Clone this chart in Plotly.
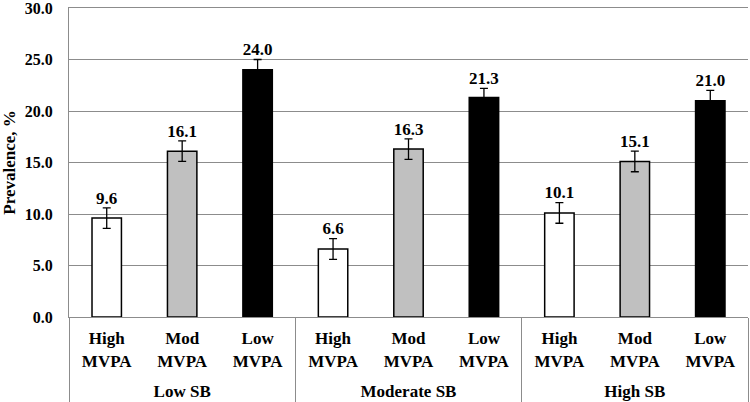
import plotly.graph_objects as go

# dados
grupos = ["Low SB", "Moderate SB", "High SB"]
niveis = ["High<br>MVPA", "Mod<br>MVPA", "Low<br>MVPA"]
prevalencia = [9.6, 16.1, 24.0, 6.6, 16.3, 21.3, 10.1, 15.1, 21.0]
erro = [1.0, 1.0, 1.0, 1.0, 1.0, 0.9, 1.0, 1.0, 1.0]
cores_nivel = ["#ffffff", "#c0c0c0", "#000000"]

FONTE = "Liberation Serif"
CINZA = "#8c8c8c"

# uma categoria por barra (grupo + nível)
chaves = [f"{g} | {n}" for g in grupos for n in niveis]
rotulos = [n for g in grupos for n in niveis]
cores = [c for g in grupos for c in cores_nivel]
n_niv = len(niveis)
centros_grupo = [i * n_niv + (n_niv - 1) / 2 for i in range(len(grupos))]
limites_grupo = [i * n_niv - 0.5 for i in range(len(grupos) + 1)]

fig = go.Figure()

fig.add_trace(go.Bar(
    x=chaves,
    y=prevalencia,
    marker=dict(color=cores, line=dict(color="#000000", width=1.5)),
    error_y=dict(type="data", array=erro, visible=True,
                 color="#000000", thickness=1.3, width=4),
    hoverinfo="skip",
))

# rótulos acima das barras de erro
fig.add_trace(go.Scatter(
    x=chaves,
    y=[v + e for v, e in zip(prevalencia, erro)],
    mode="text",
    text=[f"{v:.1f}" for v in prevalencia],
    textposition="top center",
    textfont=dict(family=FONTE, size=17, color="#000000", weight="bold"),
    hoverinfo="skip",
    cliponaxis=False,
))

# traço vazio só para o eixo dos grupos existir
fig.add_trace(go.Scatter(
    x=centros_grupo, y=[None] * len(grupos), xaxis="x2",
    mode="markers", hoverinfo="skip", showlegend=False,
))

fig.update_layout(
    width=750, height=402,
    margin=dict(l=69, r=2, t=8, b=85, autoexpand=False),
    plot_bgcolor="#ffffff",
    paper_bgcolor="#ffffff",
    showlegend=False,
    bargap=0.61,
    font=dict(family=FONTE, color="#000000"),
    xaxis=dict(
        type="category", range=[-0.5, len(chaves) - 0.5],
        tickvals=chaves, ticktext=rotulos,
        showline=True, mirror=True, linecolor=CINZA, linewidth=1,
        showgrid=False, ticks="", ticklabelstandoff=6, automargin=False,
        tickfont=dict(family=FONTE, size=17, weight="bold"),
    ),
    # eixo secundário só para os nomes dos grupos e os separadores
    xaxis2=dict(
        overlaying="x", anchor="y", side="bottom",
        type="linear", range=[-0.5, len(chaves) - 0.5],
        tickvals=centros_grupo, ticktext=grupos,
        ticks="", ticklabelstandoff=62,
        showgrid=False, showline=False, zeroline=False,
        automargin=False,
        tickfont=dict(family=FONTE, size=17, weight="bold"),
        minor=dict(tickvals=limites_grupo, ticks="outside", ticklen=84,
                   tickcolor=CINZA, tickwidth=1, showgrid=False),
    ),
    yaxis=dict(
        range=[0, 30], tickvals=[0, 5, 10, 15, 20, 25, 30], tickformat=".1f",
        showgrid=True, gridcolor=CINZA, gridwidth=1,
        showline=True, linecolor=CINZA, linewidth=1,
        zeroline=False, ticks="", ticklabelstandoff=12,
        ticklabeloverflow="allow", automargin=False,
        tickfont=dict(family=FONTE, size=16, weight="bold"),
        title=dict(text="Prevalence, %", standoff=8,
                   font=dict(family=FONTE, size=17, weight="bold")),
    ),
)

# a página não deve ter a margem padrão do <body>
fig.write_html("out.html", config={"displayModeBar": False},
               post_script="document.body.style.margin='0';")
